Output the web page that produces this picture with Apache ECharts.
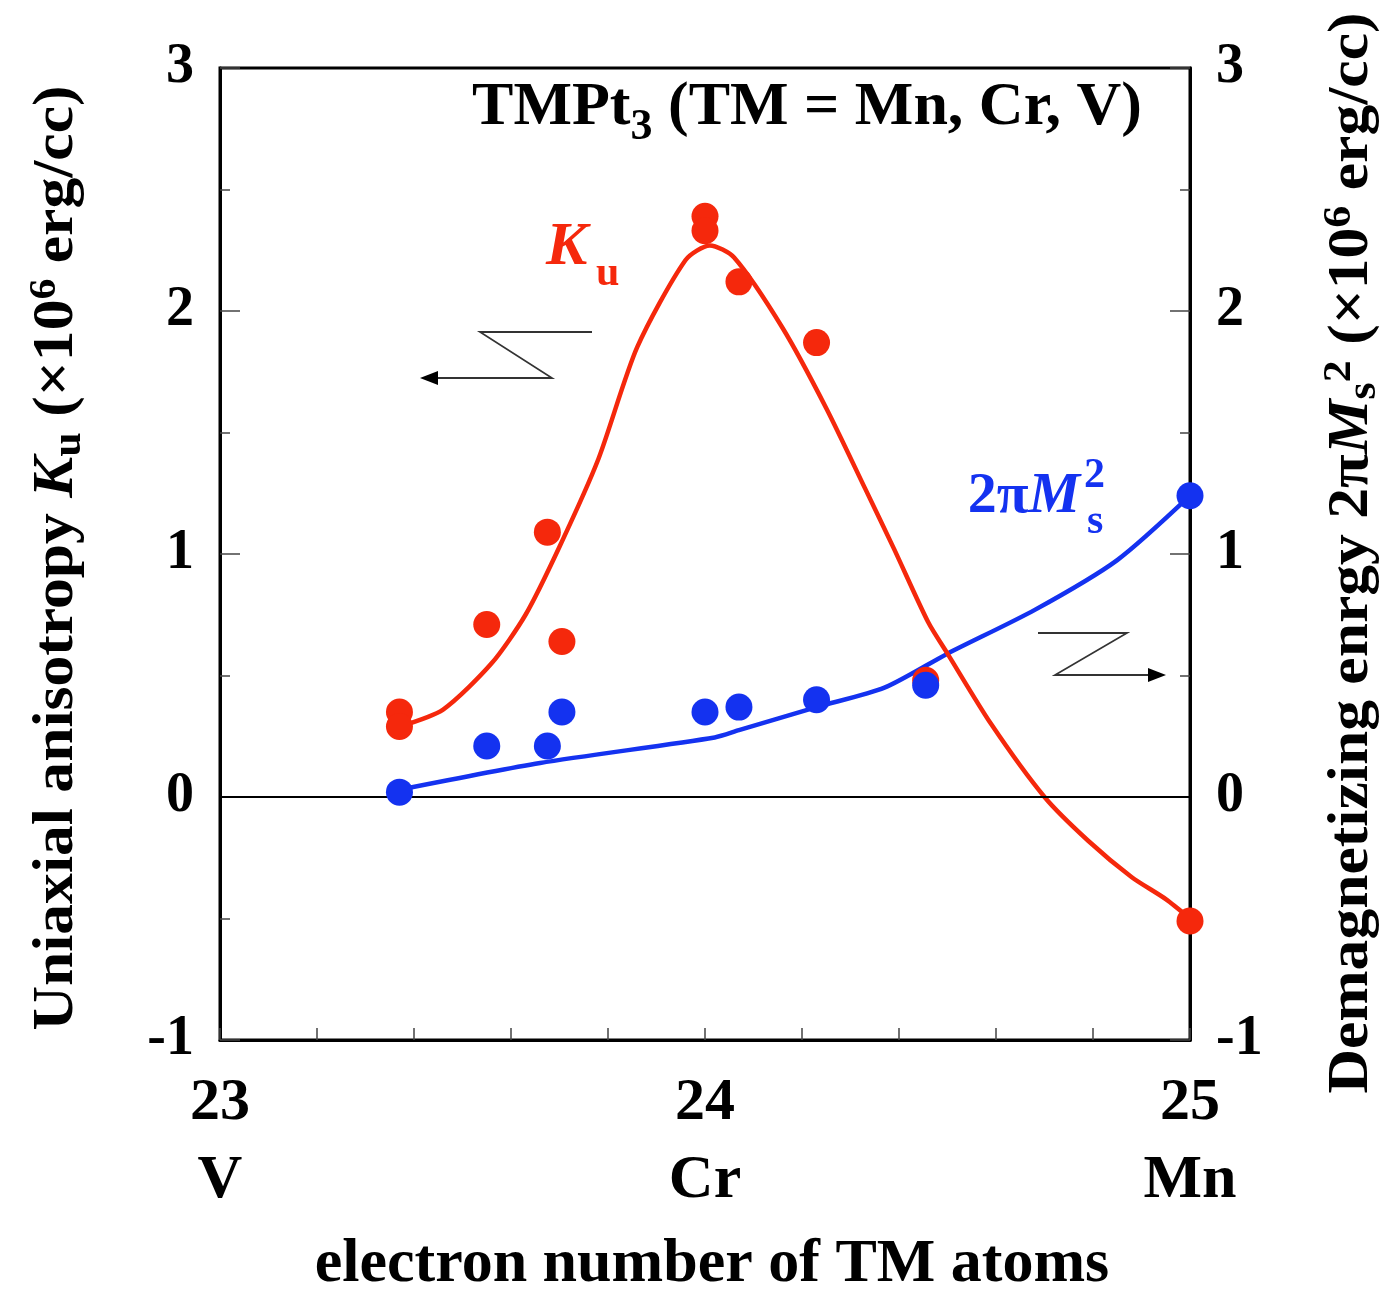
<!DOCTYPE html>
<html>
<head>
<meta charset="utf-8">
<script src="https://cdn.jsdelivr.net/npm/echarts@6/dist/echarts.min.js"></script>
<style>
  html, body { margin: 0; padding: 0; background: #fff; }
  #chart { width: 1400px; height: 1296px; }
</style>
</head>
<body>
<div id="chart"></div>
<script>
// Tick labels of the electron-number axis and the element at each value
const electronTicks = [23, 24, 25];
const elementNames = ['V', 'Cr', 'Mn'];

// Measured uniaxial anisotropy Ku (x10^6 erg/cc)
const kuX = [23.37, 23.37, 23.55, 23.675, 23.705, 24.0, 24.0, 24.07, 24.23, 24.455, 25.0];
const kuY = [0.35, 0.29, 0.71, 1.09, 0.64, 2.39, 2.33, 2.12, 1.87, 0.48, -0.51];

// Measured demagnetizing energy 2*pi*Ms^2 (x10^6 erg/cc)
const msX = [23.37, 23.55, 23.675, 23.705, 24.0, 24.07, 24.23, 24.455, 25.0];
const msY = [0.02, 0.21, 0.21, 0.35, 0.35, 0.37, 0.40, 0.46, 1.24];

// Guide curve through Ku
const kuFitX = [23.37, 23.46, 23.56, 23.63, 23.70, 23.78, 23.86, 23.96, 24.01, 24.06, 24.16, 24.25, 24.33, 24.39, 24.46, 24.50, 24.59, 24.70, 24.79, 24.88, 24.95, 25.0];
const kuFitY = [0.29, 0.36, 0.55, 0.75, 1.03, 1.39, 1.85, 2.21, 2.27, 2.22, 1.93, 1.60, 1.27, 1.02, 0.72, 0.59, 0.30, 0.0, -0.18, -0.33, -0.42, -0.50];

// Guide curve through 2*pi*Ms^2
const msFitX = [23.37, 23.66, 24.02, 24.07, 24.23, 24.37, 24.50, 24.68, 24.85, 25.0];
const msFitY = [0.03, 0.14, 0.245, 0.275, 0.37, 0.45, 0.59, 0.77, 0.975, 1.24];

const RED = '#f5280c';
const BLUE = '#1432f0';
const SERIF = '"Liberation Serif", "Times New Roman", serif';

const zip = (xs, ys) => xs.map((x, i) => [x, ys[i]]);

const chart = echarts.init(document.getElementById('chart'), null, { renderer: 'canvas' });

const yAxisCommon = {
  type: 'value',
  min: -1,
  max: 3,
  interval: 1,
  axisLine: { show: true, onZero: false, lineStyle: { color: '#000', width: 3 } },
  axisTick: { show: true, inside: true, length: 20, lineStyle: { color: '#444', width: 1.5 } },
  minorTick: { show: true, splitNumber: 2, length: 10, lineStyle: { color: '#444', width: 1.5 } },
  splitLine: { show: false },
  axisLabel: { fontFamily: SERIF, fontWeight: 'bold', fontSize: 56, color: '#000', margin: 26 }
};

chart.setOption({
  animation: false,
  backgroundColor: '#fff',
  grid: {
    left: 220, right: 210, top: 68, bottom: 256,
    show: true, borderColor: '#000', borderWidth: 3,
    outerBoundsMode: 'none'
  },
  xAxis: {
    type: 'value',
    min: 23,
    max: 25,
    interval: 1,
    axisLine: { show: true, onZero: false, lineStyle: { color: '#000', width: 3 } },
    axisTick: { show: true, inside: true, length: 12, lineStyle: { color: '#444', width: 1.5 } },
    minorTick: { show: true, splitNumber: 5, length: 12, lineStyle: { color: '#444', width: 1.5 } },
    splitLine: { show: false },
    axisLabel: {
      showMinLabel: true,
      showMaxLabel: true,
      margin: 24,
      formatter: (v) => {
        const i = electronTicks.indexOf(v);
        return '{n|' + v + '}\n{e|' + (i >= 0 ? elementNames[i] : '') + '}';
      },
      rich: {
        n: { fontFamily: SERIF, fontWeight: 'bold', fontSize: 60, color: '#000', lineHeight: 78 },
        e: { fontFamily: SERIF, fontWeight: 'bold', fontSize: 62, color: '#000', lineHeight: 78 }
      }
    }
  },
  yAxis: [
    Object.assign({}, yAxisCommon, { position: 'left' }),
    Object.assign({}, yAxisCommon, { position: 'right' })
  ],
  series: [
    {
      name: 'msFit', type: 'line', yAxisIndex: 1, data: zip(msFitX, msFitY),
      smooth: 0.25, showSymbol: false, lineStyle: { color: BLUE, width: 4.5 }, z: 3,
      markLine: {
        silent: true, symbol: 'none', label: { show: false },
        lineStyle: { color: '#000', width: 2, type: 'solid' },
        data: [{ yAxis: 0 }]
      }
    },
    {
      name: 'kuFit', type: 'line', yAxisIndex: 0, data: zip(kuFitX, kuFitY),
      smooth: 0.25, showSymbol: false, lineStyle: { color: RED, width: 4.5 }, z: 4
    },
    {
      name: 'Ku', type: 'scatter', yAxisIndex: 0, data: zip(kuX, kuY),
      symbol: 'circle', symbolSize: 27, itemStyle: { color: RED, opacity: 1 }, z: 5
    },
    {
      name: 'Ms', type: 'scatter', yAxisIndex: 1, data: zip(msX, msY),
      symbol: 'circle', symbolSize: 27, itemStyle: { color: BLUE, opacity: 1 }, z: 6
    }
  ]
});

// Annotations: titles, curve labels and axis-direction arrows
const txt = (x, y, text, extra, rotation, stretch) => ({
  type: 'text', x, y, z: 20, rotation: rotation || 0, scaleX: stretch || 1,
  style: Object.assign({
    text, fill: '#000', font: 'bold 56px ' + SERIF,
    textAlign: 'center', textVerticalAlign: 'middle'
  }, extra || {})
});

const arrow = (pts, tip, dir) => {
  const [tx, ty] = tip;
  const head = dir < 0
    ? [[tx, ty], [tx + 18, ty - 7], [tx + 18, ty + 7]]
    : [[tx, ty], [tx - 18, ty - 7], [tx - 18, ty + 7]];
  return [
    { type: 'polyline', z: 20, shape: { points: pts }, style: { stroke: '#333', lineWidth: 1.8, fill: null } },
    { type: 'polygon', z: 20, shape: { points: head }, style: { fill: '#000' } }
  ];
};

chart.setOption({
  graphic: [
    // Left axis title
    txt(58, 558, 'Uniaxial anisotropy {k|K}{sub|u} (×10{sup|6} erg/cc)', {
      font: 'bold 56px ' + SERIF,
      rich: {
        k: { font: 'italic bold 56px ' + SERIF },
        sub: { font: 'bold 40px ' + SERIF, padding: [24, 0, 0, 0] },
        sup: { font: 'bold 38px ' + SERIF, padding: [0, 0, 26, 0] }
      }
    }, Math.PI / 2, 1.1),
    // Right axis title
    txt(1353, 553, 'Demagnetizing enrgy 2π{m|M}{sub|s}{sup|2} (×10{sup|6} erg/cc)', {
      font: 'bold 56px ' + SERIF,
      rich: {
        m: { font: 'italic bold 56px ' + SERIF },
        sub: { font: 'bold 40px ' + SERIF, padding: [24, 0, 0, 0] },
        sup: { font: 'bold 40px ' + SERIF, padding: [0, 0, 26, 0] }
      }
    }, Math.PI / 2, 1.1),
    // Plot title
    txt(807, 108, 'TMPt{sub|3} (TM = Mn, Cr, V)', {
      font: 'bold 62px ' + SERIF,
      rich: { sub: { font: 'bold 44px ' + SERIF, padding: [40, 0, 0, 0] } }
    }),
    // Curve labels
    txt(546, 248, 'K', { fill: RED, font: 'italic bold 62px ' + SERIF, textAlign: 'left' }),
    txt(596, 274, 'u', { fill: RED, font: 'bold 42px ' + SERIF, textAlign: 'left' }),
    txt(1080, 497, '2π{m|M}', {
      fill: BLUE, font: 'bold 58px ' + SERIF, textAlign: 'right',
      rich: { m: { font: 'italic bold 58px ' + SERIF, fill: BLUE } }
    }),
    txt(1084, 476, '2', { fill: BLUE, font: 'bold 42px ' + SERIF, textAlign: 'left' }),
    txt(1087, 522, 's', { fill: BLUE, font: 'bold 42px ' + SERIF, textAlign: 'left' }),
    // Axis title
    txt(712, 1265, 'electron number of TM atoms', { font: 'bold 62px ' + SERIF }),
    // Arrow pointing to the left axis
    ...arrow([[592, 332], [480, 332], [552, 378], [430, 378]], [420, 378], -1),
    // Arrow pointing to the right axis
    ...arrow([[1038, 633], [1127, 633], [1055, 675], [1156, 675]], [1166, 675], 1)
  ]
});
</script>
</body>
</html>
